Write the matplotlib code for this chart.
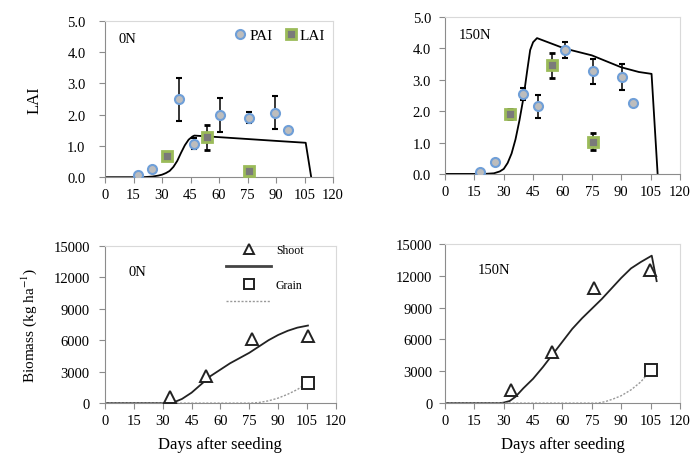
import numpy as np
import matplotlib
matplotlib.use("Agg")
import matplotlib.pyplot as plt
from matplotlib.lines import Line2D

plt.rcParams["font.family"] = ["Liberation Serif", "DejaVu Serif"]
plt.rcParams["mathtext.fontset"] = "stix"

# --- LAI / PAI observations ---
pai_days = [17.5, 24.5, 38.9, 47, 60.4, 75.8, 89.7, 96.3]
pai_0n = [0.07, 0.25, 2.49, 1.07, 1.98, 1.90, 2.06, 1.50]
pai_0n_err = [0.0, 0.0, 0.68, 0.18, 0.54, 0.18, 0.52, 0.05]
pai_150_days = [17.9, 25.5, 39.7, 47.3, 61.3, 75.7, 90.2, 96.2]
pai_150n = [0.07, 0.37, 2.55, 2.16, 3.96, 3.27, 3.09, 2.27]
pai_150n_err = [0.0, 0.0, 0.18, 0.37, 0.26, 0.40, 0.40, 0.08]

lai_days = [32.4, 53.8, 75.8]
lai_0n = [0.69, 1.28, 0.21]
lai_0n_err = [0.0, 0.40, 0.0]
lai_150_days = [33.2, 54.5, 75.7]
lai_150n = [1.91, 3.46, 1.03]
lai_150n_err = [0.15, 0.41, 0.27]

# --- simulated LAI ---
sim_lai_days_0n = [0, 20, 25, 28, 30, 32, 34, 36, 38, 40, 42, 44, 46, 47,
                   60, 75, 90, 105.6, 108.5]
sim_lai_0n = [0, 0, 0.02, 0.05, 0.08, 0.13, 0.2, 0.33, 0.52, 0.78, 1.02, 1.2, 1.3, 1.33,
              1.28, 1.22, 1.16, 1.10, 0.0]
sim_lai_days_150n = [0, 20, 25, 28, 30, 32, 34, 36, 38, 40, 42, 43.5, 45, 47,
                     61, 75, 90, 99, 105.5, 108.6]
sim_lai_150n = [0, 0, 0.02, 0.08, 0.16, 0.35, 0.65, 1.1, 1.7, 2.4, 3.3, 3.95, 4.2, 4.33,
                4.00, 3.78, 3.40, 3.25, 3.19, 0.0]

# --- biomass observations ---
shoot_days_0n = [34, 52.3, 76.6, 105.5]
shoot_0n = [570, 2630, 6130, 6440]
grain_days = [105.3]
grain_0n = [1940]
shoot_days_150n = [33.5, 54.5, 76.3, 104.7]
shoot_150n = [1230, 4780, 10820, 12550]
grain_150n = [3110]

# --- simulated biomass ---
sim_shoot_days_0n = [0, 33, 36, 40, 45, 50, 55, 60, 65, 70, 75, 80, 85, 90, 95, 100, 105.5]
sim_shoot_0n = [0, 0, 100, 400, 1000, 1800, 2600, 3200, 3800, 4300, 4800, 5400, 6000,
                6500, 6900, 7200, 7400]
sim_grain_days_0n = [0, 75, 80, 85, 90, 95, 100, 105.3]
sim_grain_0n = [0, 0, 60, 220, 480, 850, 1300, 1940]
sim_shoot_days_150n = [0, 28, 30, 33, 36, 40, 45, 50, 55, 60, 65, 70, 75, 80, 85, 90, 95,
                       100, 105.6, 108.1]
sim_shoot_150n = [0, 0, 50, 200, 600, 1400, 2300, 3400, 4600, 5800, 7000, 8000, 8900,
                  9800, 10800, 11800, 12700, 13300, 13900, 11500]
sim_grain_days_150n = [0, 78, 82, 86, 90, 95, 100, 105]
sim_grain_150n = [0, 0, 150, 400, 700, 1250, 2000, 3100]

xticks = np.arange(0, 121, 15)

fig = plt.figure(figsize=(6.91, 4.64), dpi=100)
ax_tl = fig.add_axes([0.152, 0.616, 0.330, 0.337])
ax_tr = fig.add_axes([0.644, 0.623, 0.340, 0.338])
ax_bl = fig.add_axes([0.152, 0.129, 0.334, 0.339])
ax_br = fig.add_axes([0.644, 0.129, 0.340, 0.343])

circle_kw = dict(fmt="o", ms=6.5, mfc="#bdbdbd", mec="#6f9fd8", mew=1.5,
                 ecolor="black", elinewidth=1.1, capsize=2.5, capthick=1.1)
square_kw = dict(fmt="s", ms=6.5, mfc="#7a7a7a", mec="#9bbb59", mew=2,
                 ecolor="black", elinewidth=1.1, capsize=2.5, capthick=1.1)


def style(ax, ymax, ystep, fmt, ypad):
    ax.set_xlim(0, 120)
    ax.set_ylim(0, ymax)
    ax.set_xticks(xticks)
    ax.set_yticks(np.arange(0, ymax + ystep / 2, ystep))
    ax.set_yticklabels([fmt.format(v) for v in np.arange(0, ymax + ystep / 2, ystep)])
    for s in ["top", "right"]:
        ax.spines[s].set_color("#d9d9d9")
    for s in ["left", "bottom"]:
        ax.spines[s].set_color("#8c8c8c")
    ax.tick_params(direction="out", length=4, color="#8c8c8c", labelsize=10.5)
    ax.tick_params(axis="y", pad=ypad)
    ax.tick_params(axis="x", pad=4)


# LAI panels
for ax, pd_, pv, pe, ld, lv, le, sd, sv, tag, yp in [
    (ax_tl, pai_days, pai_0n, pai_0n_err, lai_days, lai_0n, lai_0n_err,
     sim_lai_days_0n, sim_lai_0n, "0N", 10),
    (ax_tr, pai_150_days, pai_150n, pai_150n_err, lai_150_days, lai_150n, lai_150n_err,
     sim_lai_days_150n, sim_lai_150n, "150N", 6),
]:
    ax.plot(sd, sv, color="black", lw=1.3, zorder=2)
    ax.errorbar(pd_, pv, yerr=pe, zorder=3, label="PAI", **circle_kw)
    ax.errorbar(ld, lv, yerr=le, zorder=3, label="LAI", **square_kw)
    style(ax, 5.0, 1.0, "{:.1f}", yp)
    ax.text(0.06, 0.93, tag, transform=ax.transAxes, fontsize=10.5, va="top")

ax_tl.set_ylabel("LAI", fontsize=12, labelpad=18)
h = [Line2D([], [], marker="o", ls="none", ms=6.5, mfc="#bdbdbd", mec="#6f9fd8", mew=1.5),
     Line2D([], [], marker="s", ls="none", ms=6.5, mfc="#7a7a7a", mec="#9bbb59", mew=2)]
ax_tl.legend(h, ["PAI", "LAI"], ncol=2, loc="upper right", frameon=False,
             fontsize=11, handletextpad=0.0, columnspacing=0.6,
             borderaxespad=0.1, handlelength=1.2)

# Biomass panels
for ax, shd, shv, gv, ssd, ssv, sgd, sgv, tag, yp in [
    (ax_bl, shoot_days_0n, shoot_0n, grain_0n, sim_shoot_days_0n, sim_shoot_0n,
     sim_grain_days_0n, sim_grain_0n, "0N", 7),
    (ax_br, shoot_days_150n, shoot_150n, grain_150n, sim_shoot_days_150n, sim_shoot_150n,
     sim_grain_days_150n, sim_grain_150n, "150N", 5),
]:
    ax.plot(ssd, ssv, color="#222222", lw=1.3, zorder=2)
    ax.plot(sgd, sgv, color="#999999", lw=1.0, ls=(0, (1.5, 1.2)), zorder=2)
    ax.plot(shd, shv, "^", ms=8, mfc="white", mec="#222222", mew=1.4, zorder=3)
    ax.plot(grain_days, gv, "s", ms=8, mfc="white", mec="#222222", mew=1.4, zorder=3)
    style(ax, 15000, 3000, "{:.0f}", yp)
    ax.set_xlabel("Days after seeding", fontsize=12, labelpad=6)
    ax.text(0.1 if tag == "0N" else 0.14, 0.88, tag, transform=ax.transAxes,
            fontsize=10.5, va="top")

ax_bl.set_ylabel("Biomass (kg ha$^{-1}$)", fontsize=11, labelpad=10)
h2 = [Line2D([], [], marker="^", ls="none", ms=7, mfc="white", mec="#222222", mew=1.4),
      Line2D([], [], color="#444444", lw=2),
      Line2D([], [], marker="s", ls="none", ms=7, mfc="white", mec="#222222", mew=1.4),
      Line2D([], [], color="#999999", lw=1.0, ls=(0, (1.5, 1.2)))]
ax_bl.legend(h2, ["Shoot", "", "Grain", ""], loc="upper right", frameon=False,
             fontsize=8.5, handlelength=3.8, handletextpad=0.4, labelspacing=0.45,
             borderaxespad=0.0, bbox_to_anchor=(0.88, 1.04))

fig.savefig("out.png", dpi=100)
